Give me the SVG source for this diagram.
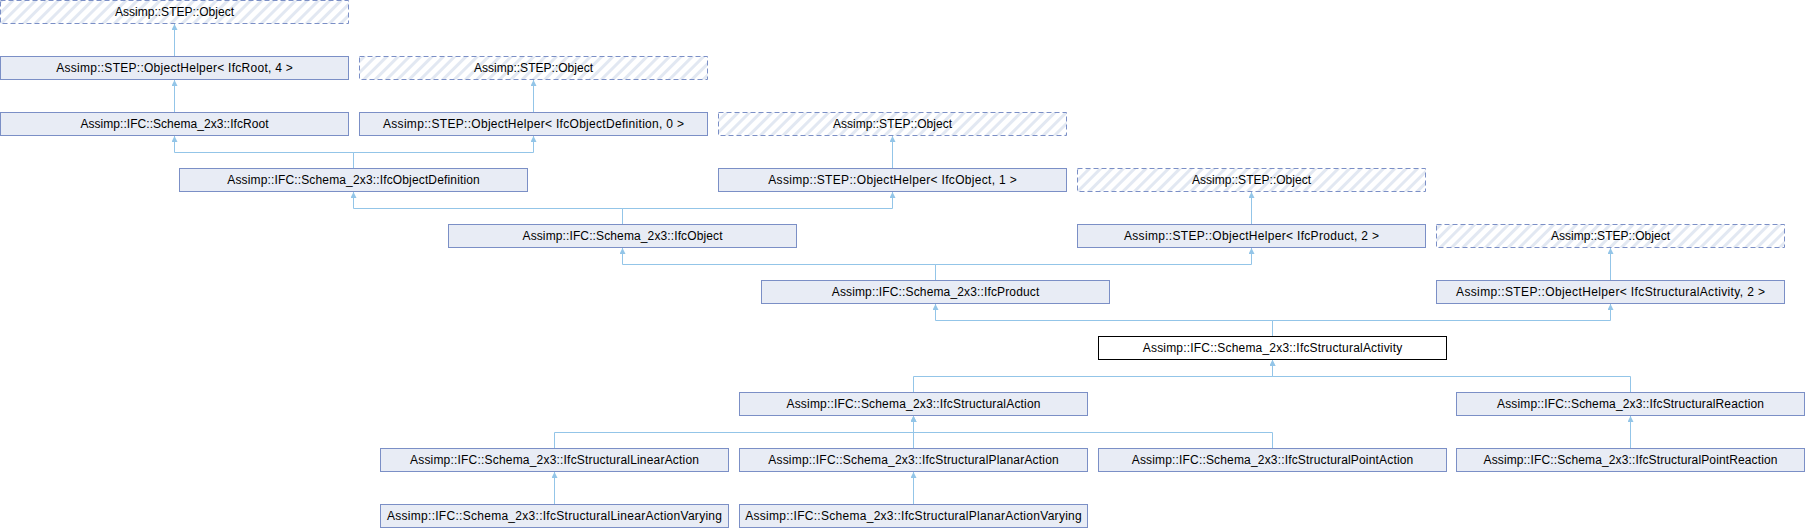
<svg xmlns="http://www.w3.org/2000/svg" width="1805" height="528" viewBox="0 0 1805 528">
<style>
.box{fill:#e8ecf5;stroke:#7b8fc6;stroke-width:1}
.ext{fill:url(#hatch);stroke:#7b8fc6;stroke-width:1;stroke-dasharray:5,3}
.focus{fill:#ffffff;stroke:#000000;stroke-width:1}
.lbl{font-family:"Liberation Sans",Arial,sans-serif;font-size:12px;fill:#000000;text-anchor:middle}
.edge{fill:none;stroke:#93c5e8;stroke-width:1;marker-end:url(#arr)}
</style>
<defs>
<pattern id="hatch" patternUnits="userSpaceOnUse" width="8" height="8" patternTransform="rotate(45)">
<rect x="0" y="0" width="8" height="8" fill="#ffffff"/>
<rect x="0" y="0" width="3" height="8" fill="#e2e8f2"/>
</pattern>
<marker id="arr" viewBox="0 0 6 6" refX="6" refY="3" markerWidth="6" markerHeight="6" markerUnits="userSpaceOnUse" orient="auto">
<path d="M0,0 L6,3 L0,6 z" fill="#93c5e8"/>
</marker>
</defs>
<g id="connectors">
<path class="edge" d="M174.5,56 V24"/>
<path class="edge" d="M174.5,112 V80"/>
<path class="edge" d="M533.5,112 V80"/>
<path class="edge" d="M353.5,168 V152.5 H174.5 V136"/>
<path class="edge" d="M353.5,168 V152.5 H533.5 V136"/>
<path class="edge" d="M892.5,168 V136"/>
<path class="edge" d="M622.5,224 V208.5 H353.5 V192"/>
<path class="edge" d="M622.5,224 V208.5 H892.5 V192"/>
<path class="edge" d="M1251.5,224 V192"/>
<path class="edge" d="M935.5,280 V264.5 H622.5 V248"/>
<path class="edge" d="M935.5,280 V264.5 H1251.5 V248"/>
<path class="edge" d="M1610.5,280 V248"/>
<path class="edge" d="M1272.5,336 V320.5 H935.5 V304"/>
<path class="edge" d="M1272.5,336 V320.5 H1610.5 V304"/>
<path class="edge" d="M913.5,392 V376.5 H1272.5 V360"/>
<path class="edge" d="M1630.5,392 V376.5 H1272.5 V360"/>
<path class="edge" d="M554.5,448 V432.5 H913.5 V416"/>
<path class="edge" d="M913.5,448 V416"/>
<path class="edge" d="M1272.5,448 V432.5 H913.5 V416"/>
<path class="edge" d="M1630.5,448 V416"/>
<path class="edge" d="M554.5,504 V472"/>
<path class="edge" d="M913.5,504 V472"/>
</g>
<g id="n0"><rect class="ext" x="0.5" y="0.5" width="348" height="23"/><text class="lbl" x="174.5" y="15.5" textLength="119" lengthAdjust="spacing">Assimp::STEP::Object</text></g>
<g id="n1"><rect class="box" x="0.5" y="56.5" width="348" height="23"/><text class="lbl" x="174.5" y="71.5" textLength="236.5" lengthAdjust="spacing">Assimp::STEP::ObjectHelper&lt; IfcRoot, 4 &gt;</text></g>
<g id="n2"><rect class="ext" x="359.5" y="56.5" width="348" height="23"/><text class="lbl" x="533.5" y="71.5" textLength="119" lengthAdjust="spacing">Assimp::STEP::Object</text></g>
<g id="n3"><rect class="box" x="0.5" y="112.5" width="348" height="23"/><text class="lbl" x="174.5" y="127.5" textLength="188" lengthAdjust="spacing">Assimp::IFC::Schema_2x3::IfcRoot</text></g>
<g id="n4"><rect class="box" x="359.5" y="112.5" width="348" height="23"/><text class="lbl" x="533.5" y="127.5" textLength="301" lengthAdjust="spacing">Assimp::STEP::ObjectHelper&lt; IfcObjectDefinition, 0 &gt;</text></g>
<g id="n5"><rect class="ext" x="718.5" y="112.5" width="348" height="23"/><text class="lbl" x="892.5" y="127.5" textLength="119" lengthAdjust="spacing">Assimp::STEP::Object</text></g>
<g id="n6"><rect class="box" x="179.5" y="168.5" width="348" height="23"/><text class="lbl" x="353.5" y="183.5" textLength="252.5" lengthAdjust="spacing">Assimp::IFC::Schema_2x3::IfcObjectDefinition</text></g>
<g id="n7"><rect class="box" x="718.5" y="168.5" width="348" height="23"/><text class="lbl" x="892.5" y="183.5" textLength="248.5" lengthAdjust="spacing">Assimp::STEP::ObjectHelper&lt; IfcObject, 1 &gt;</text></g>
<g id="n8"><rect class="ext" x="1077.5" y="168.5" width="348" height="23"/><text class="lbl" x="1251.5" y="183.5" textLength="119" lengthAdjust="spacing">Assimp::STEP::Object</text></g>
<g id="n9"><rect class="box" x="448.5" y="224.5" width="348" height="23"/><text class="lbl" x="622.5" y="239.5" textLength="200" lengthAdjust="spacing">Assimp::IFC::Schema_2x3::IfcObject</text></g>
<g id="n10"><rect class="box" x="1077.5" y="224.5" width="348" height="23"/><text class="lbl" x="1251.5" y="239.5" textLength="255" lengthAdjust="spacing">Assimp::STEP::ObjectHelper&lt; IfcProduct, 2 &gt;</text></g>
<g id="n11"><rect class="ext" x="1436.5" y="224.5" width="348" height="23"/><text class="lbl" x="1610.5" y="239.5" textLength="119" lengthAdjust="spacing">Assimp::STEP::Object</text></g>
<g id="n12"><rect class="box" x="761.5" y="280.5" width="348" height="23"/><text class="lbl" x="935.5" y="295.5" textLength="207.5" lengthAdjust="spacing">Assimp::IFC::Schema_2x3::IfcProduct</text></g>
<g id="n13"><rect class="box" x="1436.5" y="280.5" width="348" height="23"/><text class="lbl" x="1610.5" y="295.5" textLength="309" lengthAdjust="spacing">Assimp::STEP::ObjectHelper&lt; IfcStructuralActivity, 2 &gt;</text></g>
<g id="n14"><rect class="focus" x="1098.5" y="336.5" width="348" height="23"/><text class="lbl" x="1272.5" y="351.5" textLength="259.5" lengthAdjust="spacing">Assimp::IFC::Schema_2x3::IfcStructuralActivity</text></g>
<g id="n15"><rect class="box" x="739.5" y="392.5" width="348" height="23"/><text class="lbl" x="913.5" y="407.5" textLength="254" lengthAdjust="spacing">Assimp::IFC::Schema_2x3::IfcStructuralAction</text></g>
<g id="n16"><rect class="box" x="1456.5" y="392.5" width="348" height="23"/><text class="lbl" x="1630.5" y="407.5" textLength="267" lengthAdjust="spacing">Assimp::IFC::Schema_2x3::IfcStructuralReaction</text></g>
<g id="n17"><rect class="box" x="380.5" y="448.5" width="348" height="23"/><text class="lbl" x="554.5" y="463.5" textLength="289" lengthAdjust="spacing">Assimp::IFC::Schema_2x3::IfcStructuralLinearAction</text></g>
<g id="n18"><rect class="box" x="739.5" y="448.5" width="348" height="23"/><text class="lbl" x="913.5" y="463.5" textLength="290.5" lengthAdjust="spacing">Assimp::IFC::Schema_2x3::IfcStructuralPlanarAction</text></g>
<g id="n19"><rect class="box" x="1098.5" y="448.5" width="348" height="23"/><text class="lbl" x="1272.5" y="463.5" textLength="281.5" lengthAdjust="spacing">Assimp::IFC::Schema_2x3::IfcStructuralPointAction</text></g>
<g id="n20"><rect class="box" x="1456.5" y="448.5" width="348" height="23"/><text class="lbl" x="1630.5" y="463.5" textLength="294" lengthAdjust="spacing">Assimp::IFC::Schema_2x3::IfcStructuralPointReaction</text></g>
<g id="n21"><rect class="box" x="380.5" y="504.5" width="348" height="23"/><text class="lbl" x="554.5" y="519.5" textLength="335" lengthAdjust="spacing">Assimp::IFC::Schema_2x3::IfcStructuralLinearActionVarying</text></g>
<g id="n22"><rect class="box" x="739.5" y="504.5" width="348" height="23"/><text class="lbl" x="913.5" y="519.5" textLength="336.5" lengthAdjust="spacing">Assimp::IFC::Schema_2x3::IfcStructuralPlanarActionVarying</text></g>
</svg>
